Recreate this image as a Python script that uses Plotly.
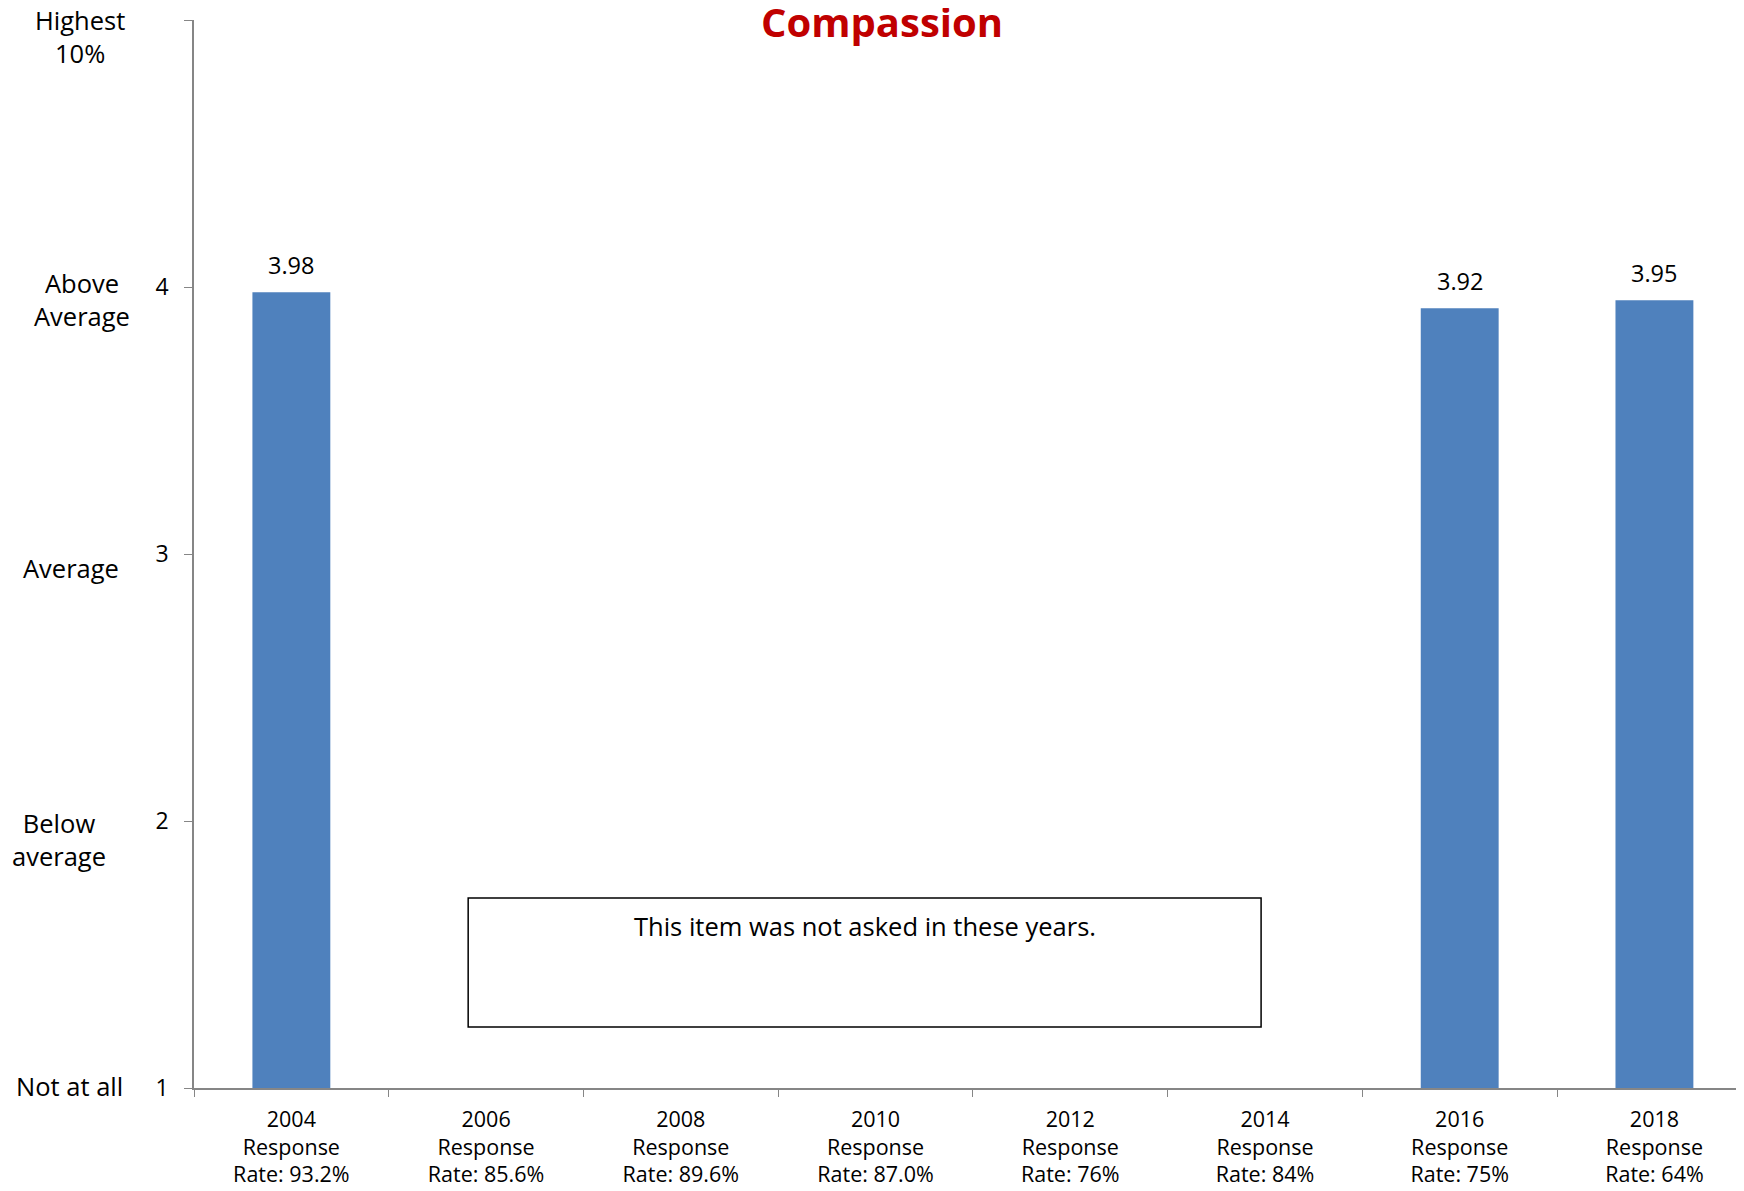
import plotly.graph_objects as go

# Survey years and the response rate shown under each one
years = ["2004", "2006", "2008", "2010", "2012", "2014", "2016", "2018"]
response_rates = ["93.2%", "85.6%", "89.6%", "87.0%", "76%", "84%", "75%", "64%"]
# Mean rating per year (None = item not asked)
scores = [3.98, None, None, None, None, None, 3.92, 3.95]

# Rating scale descriptions for the y axis
scale_values = [5, 4, 3, 2, 1]
scale_names = ["Highest<br>10%", "Above<br>Average", "Average", "Below<br>average", "Not at all"]

title_text = "Compassion"
note_text = "This item was not asked in these years."

FONT = "Open Sans"
BAR_COLOR = "#4F81BD"
AXIS_COLOR = "#868686"

x_labels = [f"{y}<br>Response<br>Rate: {r}" for y, r in zip(years, response_rates)]

fig = go.Figure()
fig.add_trace(go.Bar(
    x=x_labels,
    y=[s - 1 if s is not None else None for s in scores],
    base=1,
    marker=dict(color=BAR_COLOR, line=dict(width=0)),
    width=0.4,
    hoverinfo="skip",
))

# Value labels above the bars
for lab, s in zip(x_labels, scores):
    if s is None:
        continue
    fig.add_annotation(x=lab, y=s, text=f"{s:.2f}", showarrow=False,
                       yanchor="bottom", yshift=9,
                       font=dict(family=FONT, size=23.5, color="black"))

# Scale descriptions to the left of the tick numbers
name_xshift = [-114, -112, -123, -135, -125]
name_dy = [1, -3, 14, 3, -2]
for v, name, xs, dy in zip(scale_values, scale_names, name_xshift, name_dy):
    two_lines = "<br>" in name
    fig.add_annotation(xref="paper", x=0, y=v, text=name, showarrow=False,
                       xanchor="center", yanchor="top" if two_lines else "middle",
                       xshift=xs, yshift=(20 if two_lines else 0) - dy,
                       font=dict(family=FONT, size=25.5, color="black"))

# Title (sits right at the top edge, as in the original)
fig.add_annotation(xref="paper", yref="paper", x=0.444, y=1, text=f"<b>{title_text}</b>",
                   showarrow=False, xanchor="center", yanchor="middle", yshift=-1,
                   font=dict(family=FONT, size=40, color="#C00000"))

# "Not asked" box
fig.add_shape(type="rect", xref="x", yref="y", x0=0.908, x1=4.98, y0=1.228, y1=1.712,
              line=dict(color="black", width=1.5), fillcolor="rgba(0,0,0,0)")
fig.add_annotation(x=2.945, y=1.605, text=note_text, showarrow=False,
                   font=dict(family=FONT, size=25.5, color="black"))

# page body has an 8px margin, so shrink the figure to keep the same pixel layout
fig.update_layout(
    width=1736, height=1183,
    margin=dict(l=186, r=0, t=12, b=103),
    plot_bgcolor="white", paper_bgcolor="white",
    showlegend=False,
    font=dict(family=FONT, color="black"),
)
# the last category runs slightly past the right edge in the original
fig.update_xaxes(
    type="category", range=[-0.5, 7.46],
    showline=True, linecolor=AXIS_COLOR, linewidth=1.5,
    ticks="outside", tickson="boundaries", ticklen=7, tickcolor=AXIS_COLOR,
    showgrid=False, ticklabelstandoff=11,
    tickfont=dict(family=FONT, size=21.5, color="black"),
)
fig.update_yaxes(
    range=[1, 5], tickvals=scale_values, ticktext=[str(v) for v in scale_values],
    showline=True, linecolor=AXIS_COLOR, linewidth=1.5,
    ticks="outside", ticklen=8, tickcolor=AXIS_COLOR,
    showgrid=False, zeroline=False, ticklabelstandoff=11,
    tickfont=dict(family=FONT, size=23, color="black"),
)

fig.write_html("out.html")
